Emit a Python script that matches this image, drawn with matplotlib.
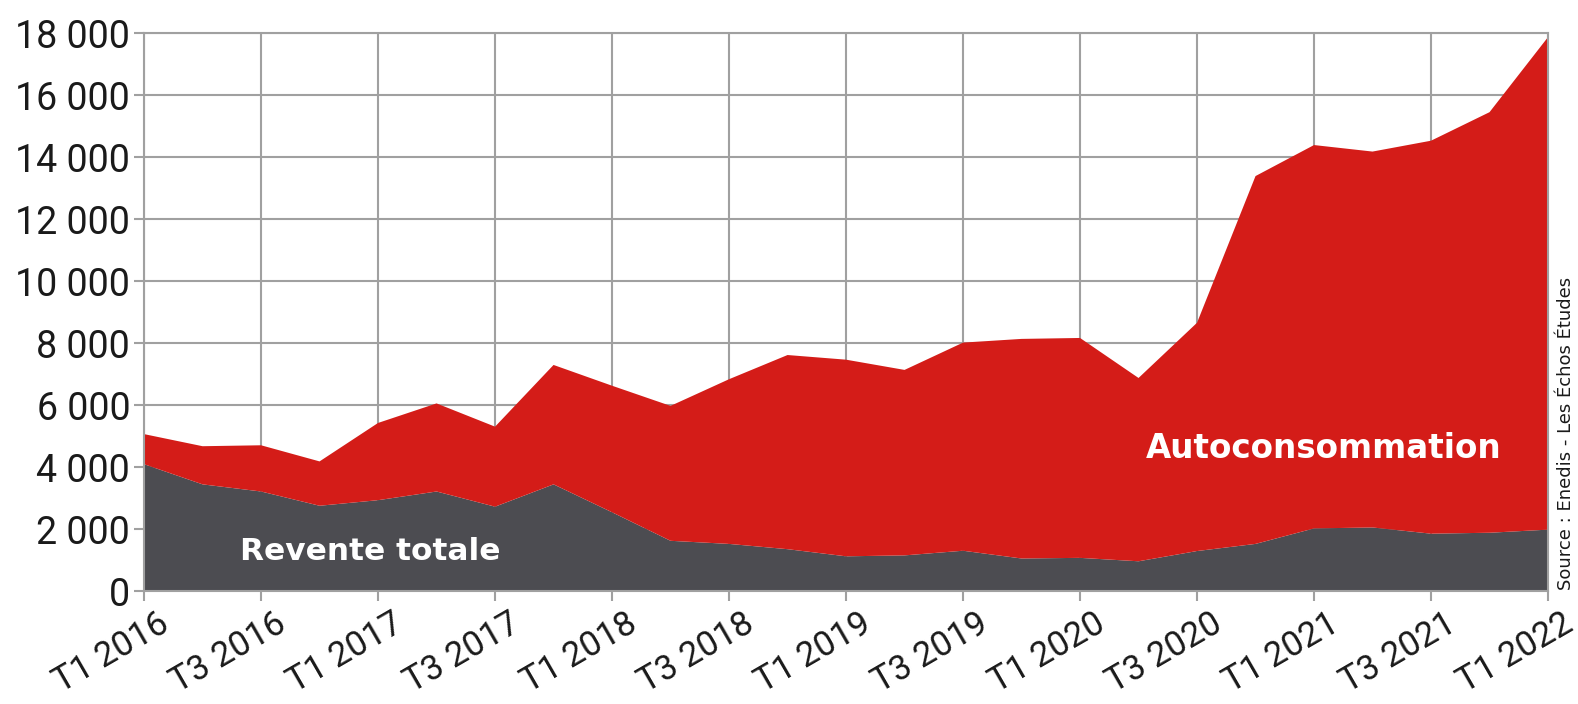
import numpy as np
import matplotlib.pyplot as plt
from matplotlib.transforms import ScaledTranslation

# quarterly data, T1 2016 -> T1 2022
quarters = ["T1 2016", "T2 2016", "T3 2016", "T4 2016",
            "T1 2017", "T2 2017", "T3 2017", "T4 2017",
            "T1 2018", "T2 2018", "T3 2018", "T4 2018",
            "T1 2019", "T2 2019", "T3 2019", "T4 2019",
            "T1 2020", "T2 2020", "T3 2020", "T4 2020",
            "T1 2021", "T2 2021", "T3 2021", "T4 2021",
            "T1 2022"]
revente_totale = [4100, 3450, 3220, 2760, 2940, 3220, 2730, 3450, 2550, 1630,
                  1530, 1360, 1130, 1160, 1310, 1060, 1080, 970, 1300, 1530,
                  2030, 2060, 1860, 1890, 1990]
autoconsommation = [970, 1230, 1490, 1430, 2490, 2840, 2580, 3850, 4080, 4350,
                    5310, 6260, 6340, 5980, 6710, 7080, 7090, 5910, 7360, 11860,
                    12360, 12120, 12670, 13560, 15880]
y_ticks = [0, 2000, 4000, 6000, 8000, 10000, 12000, 14000, 16000, 18000]
y_labels = ["0", "2 000", "4 000", "6 000", "8 000", "10 000", "12 000",
            "14 000", "16 000", "18 000"]

red = "#d41c18"
grey = "#4c4c51"
grid_col = "#a0a0a0"

x = np.arange(len(quarters))

fig = plt.figure(figsize=(15.78, 7.04), dpi=100)
ax = fig.add_axes([0.0913, 0.16, 0.8897, 0.793])

ax.stackplot(x, revente_totale, autoconsommation, colors=[grey, red], linewidth=0, zorder=2)

ax.set_xlim(0, len(quarters) - 1)
ax.set_ylim(0, 18000)
ax.set_xticks(x[::2])
ax.set_xticklabels([])
# rotated labels drawn by hand so they can sit a little right of the tick
lab_tr = ax.get_xaxis_transform() + ScaledTranslation(14 / 100, -16 / 100, fig.dpi_scale_trans)
for xi, q in zip(x[::2], quarters[::2]):
    ax.text(xi, 0, q, transform=lab_tr, rotation=30, rotation_mode="anchor",
            ha="right", va="top", fontsize=25, family="Roboto", color="#1a1a1a",
            clip_on=False)
ax.set_yticks(y_ticks)
ax.set_yticklabels(y_labels, fontsize=27, family="Roboto")

ax.grid(True, color=grid_col, linewidth=1.5, zorder=0)
ax.set_axisbelow(True)
for s in ax.spines.values():
    s.set_color(grid_col)
    s.set_linewidth(1.5)
ax.tick_params(axis="both", color=grid_col, width=1.5, length=7, labelcolor="#1a1a1a")
ax.tick_params(axis="y", pad=3)

ax.text(3.87, 1300, "Revente totale", color="white", fontsize=22.5,
        fontweight="bold", ha="center", va="center", zorder=3)
ax.text(20.16, 4600, "Autoconsommation", color="white", fontsize=23.5,
        fontweight="bold", ha="center", va="center", zorder=3)

fig.text(0.9924, 0.162, "Source : Enedis - Les Échos Études", rotation=90,
         ha="center", va="bottom", fontsize=13, color="#1a1a1a")

fig.savefig("out.png", dpi=100)
